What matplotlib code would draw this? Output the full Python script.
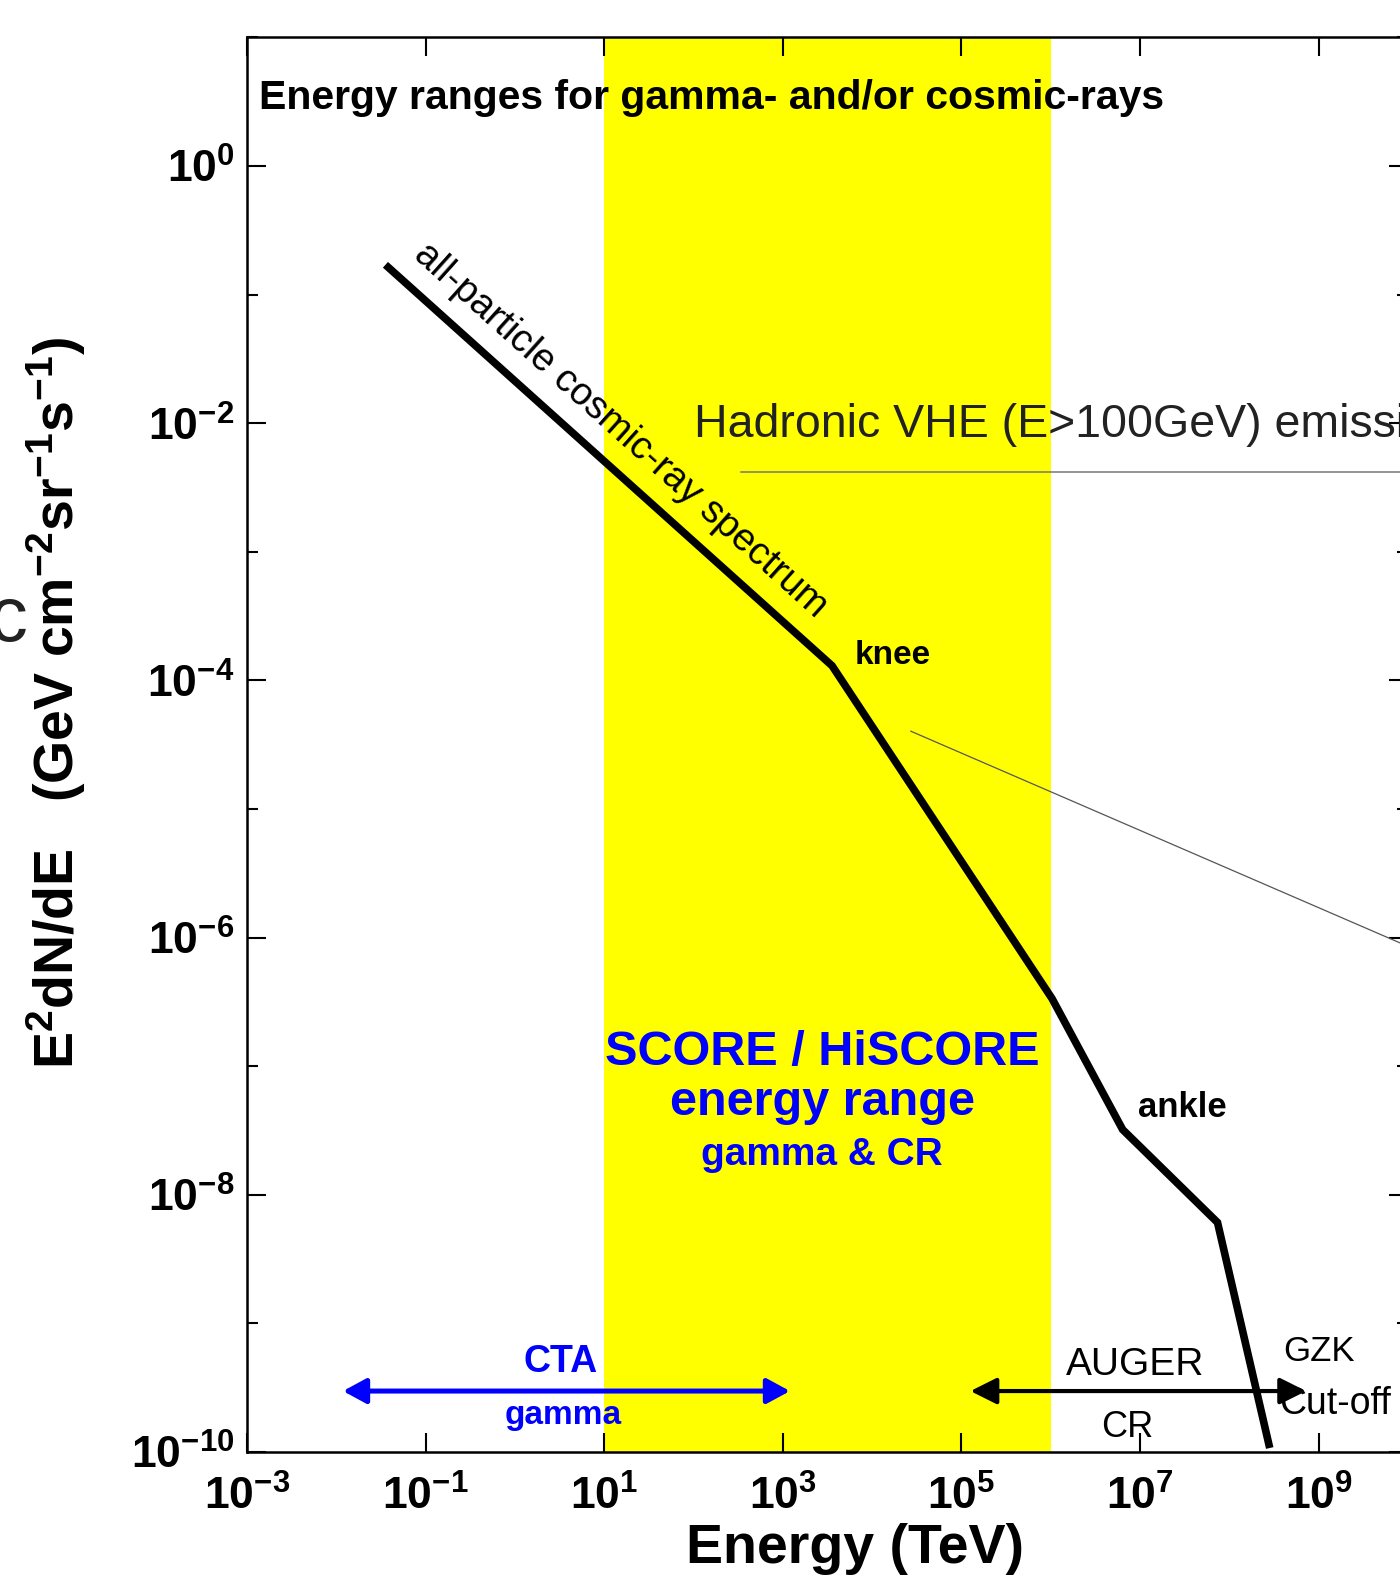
import numpy as np
import matplotlib.pyplot as plt
from matplotlib.ticker import FixedLocator, FuncFormatter, NullFormatter

plt.rcParams['font.family'] = ['Liberation Sans', 'DejaVu Sans']
plt.rcParams['mathtext.fontset'] = 'custom'
plt.rcParams['mathtext.rm'] = 'Liberation Sans'
plt.rcParams['mathtext.it'] = 'Liberation Sans:italic'
plt.rcParams['mathtext.bf'] = 'Liberation Sans:bold'

# all-particle cosmic-ray spectrum (broken power law), E in TeV
energy_tev = 10 ** np.array([-1.418, 3.551, 6.014, 6.805, 7.867, 8.442])
flux = 10 ** np.array([-0.788, -3.886, -6.474, -7.493, -8.215, -9.94])

# energy ranges
score_range = (1e1, 1e6)
cta_range = (10 ** -1.925, 10 ** 3.08)
auger_range = (10 ** 5.10, 10 ** 8.86)
range_level = 10 ** -9.526

# overlay lines from the slide
hadronic_line_x = [10 ** 2.532, 1e10]
hadronic_line_y = [10 ** -2.379, 10 ** -2.379]
pointer_x = [10 ** 4.433, 1e10]
pointer_y = [10 ** -4.395, 10 ** -6.068]

x_ticks = 10.0 ** np.arange(-3, 10, 2)
y_ticks = 10.0 ** np.arange(-10, 1, 2)
y_minor = 10.0 ** np.arange(-9, 2, 2)

fig = plt.figure(figsize=(14, 15.82), dpi=100)
ax = fig.add_axes([0.17643, 0.08217, 0.82929, 0.89418])
ax.set_xscale('log')
ax.set_yscale('log')
ax.set_xlim(1e-3, 1e10)
ax.set_ylim(1e-10, 1e1)

ax.axvspan(*score_range, color='#ffff00', lw=0, zorder=0)

ax.plot(energy_tev, flux, color='black', lw=5.5, solid_joinstyle='miter', zorder=3)

# range arrows
ax.annotate('', xy=(cta_range[1], range_level), xytext=(cta_range[0], range_level),
            arrowprops=dict(arrowstyle='<|-|>,head_length=0.7,head_width=0.38',
                            color='#0000ff', lw=3.6, mutation_scale=20,
                            shrinkA=0, shrinkB=0), zorder=4)
ax.annotate('', xy=(auger_range[1], range_level), xytext=(auger_range[0], range_level),
            arrowprops=dict(arrowstyle='<|-|>,head_length=0.8,head_width=0.4',
                            color='black', lw=3.0, mutation_scale=20,
                            shrinkA=0, shrinkB=0), zorder=4)

# slide overlay lines
ax.plot(hadronic_line_x, hadronic_line_y, color='#777777', lw=1.1, clip_on=False, zorder=2)
ax.plot(pointer_x, pointer_y, color='#555555', lw=0.9, clip_on=False, zorder=2)

# axes styling
for s in ax.spines.values():
    s.set_linewidth(1.8)
ax.xaxis.set_major_locator(FixedLocator(x_ticks))
ax.xaxis.set_minor_locator(FixedLocator([]))
ax.yaxis.set_major_locator(FixedLocator(y_ticks))
ax.yaxis.set_minor_locator(FixedLocator(y_minor))
fmt = FuncFormatter(lambda v, p: r'$\mathbf{10^{%d}}$' % round(np.log10(v)))
ax.xaxis.set_major_formatter(fmt)
ax.yaxis.set_major_formatter(fmt)
ax.yaxis.set_minor_formatter(NullFormatter())
ax.tick_params(which='major', direction='in', length=13.5, width=1.5,
               top=True, right=True, labelsize=32, pad=9)
ax.tick_params(which='minor', direction='in', length=8, width=1.5, right=True)
ax.tick_params(axis='x', pad=17)

# labels
fig.text(855 / 1400, 1 - 1563 / 1582, 'Energy (TeV)', fontsize=40, fontweight='bold',
         ha='center', va='baseline')
fig.text(56 / 1400, 1 - 703 / 1582,
         r'$\mathbf{E^2dN/dE\ \ \ (GeV\ cm^{-2}sr^{-1}s^{-1})}$',
         fontsize=40, rotation=90, ha='center', va='center')

ax.text(0.0103, 0.957, 'Energy ranges for gamma- and/or cosmic-rays',
        transform=ax.transAxes, fontsize=29.5, fontweight='bold', va='center')
ax.text(10 ** 1.188, 10 ** -2.053, 'all-particle cosmic-ray spectrum', fontsize=27.7,
        rotation=-41.9, rotation_mode='anchor', ha='center', va='center', zorder=5)
ax.text(10 ** 3.809, 10 ** -3.807, 'knee', fontsize=24, fontweight='bold', va='center')
ax.text(10 ** 6.974, 10 ** -7.320, 'ankle', fontsize=25, fontweight='bold', va='center')
ax.text(10 ** 6.171, 10 ** -9.320, 'AUGER', fontsize=28, va='center')
ax.text(10 ** 6.568, 10 ** -9.807, 'CR', fontsize=26, va='center')
ax.text(10 ** 8.601, 10 ** -9.218, 'GZK', fontsize=25, va='center')
ax.text(10 ** 8.557, 10 ** -9.627, 'Cut-off', fontsize=27, va='center', clip_on=False)
ax.text(10 ** 0.516, 10 ** -9.300, 'CTA', fontsize=27, fontweight='bold',
        color='#0000ff', ha='center', va='center')
ax.text(10 ** 0.539, 10 ** -9.72, 'gamma', fontsize=24, fontweight='bold',
        color='#0000ff', ha='center', va='center', zorder=5)
ax.text(10 ** 3.439, 10 ** -6.991, 'SCORE / HiSCORE', fontsize=35, fontweight='bold',
        color='#0000ff', ha='center', va='baseline')
ax.text(10 ** 3.439, 10 ** -7.379, 'energy range', fontsize=35, fontweight='bold',
        color='#0000ff', ha='center', va='baseline')
ax.text(10 ** 3.439, 10 ** -7.768, 'gamma & CR', fontsize=28, fontweight='bold',
        color='#0000ff', ha='center', va='baseline')

ax.text(10 ** 2.006, 10 ** -2.107, 'Hadronic VHE (E>100GeV) emission', fontsize=33.5,
        color='#222222', va='baseline', clip_on=False, zorder=6)
fig.text(-0.008, 1 - 620 / 1582, 'c', fontsize=56, color='#222222', va='center')

fig.savefig('out.png', dpi=100)
